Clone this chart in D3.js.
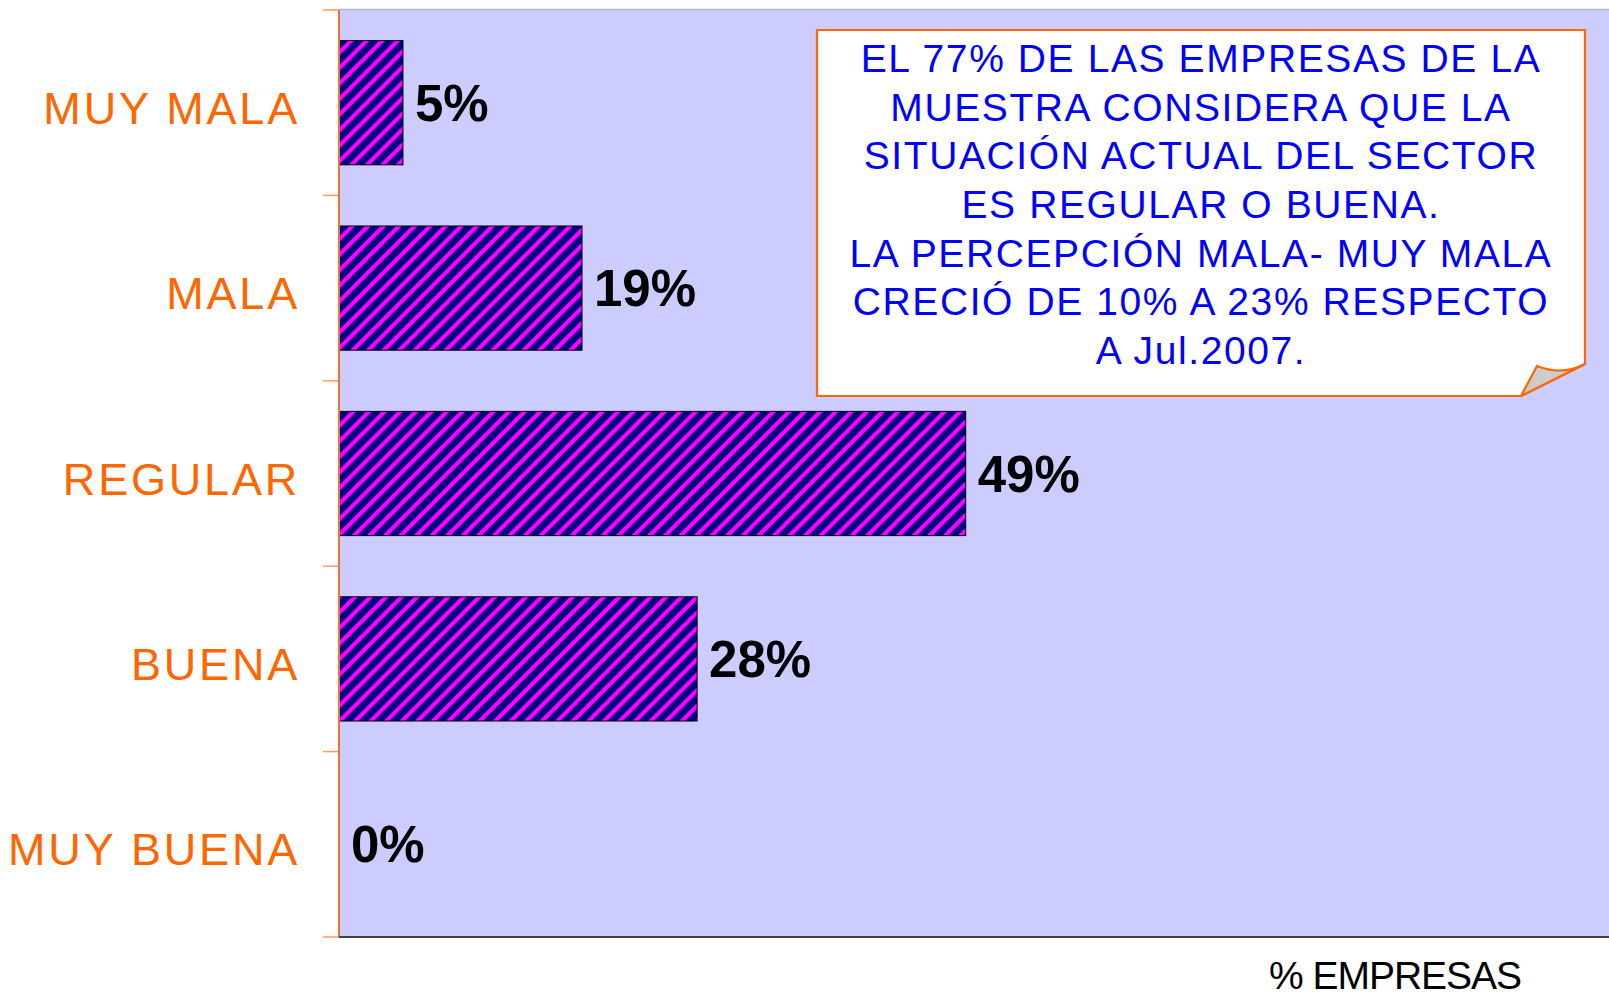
<!DOCTYPE html>
<html>
<head>
<meta charset="utf-8">
<script src="https://cdn.jsdelivr.net/npm/d3@7"></script>
<style>
  body { margin: 0; background: #fff; }
  svg { display: block; font-family: "Liberation Sans", Arial, sans-serif; }
</style>
</head>
<body>
<svg id="chart" width="1609" height="997"></svg>
<script>
// datos
let categorias = ["MUY MALA", "MALA", "REGULAR", "BUENA", "MUY BUENA"]
let porcentajes = [5, 19, 49, 28, 0]
let etiquetas = ["5%", "19%", "49%", "28%", "0%"]
let nota = [
  "EL 77% DE LAS EMPRESAS DE LA",
  "MUESTRA CONSIDERA QUE LA",
  "SITUACIÓN ACTUAL DEL SECTOR",
  "ES REGULAR O BUENA.",
  "LA PERCEPCIÓN MALA- MUY MALA",
  "CRECIÓ DE 10% A 23% RESPECTO",
  "A Jul.2007."
]
let tituloX = "% EMPRESAS"

let svg = d3.select("#chart")

let plotL = 339, plotT = 10, plotR = 1609, plotB = 937

let xScale = d3.scaleLinear().domain([0, 100]).range([plotL, 1618])
let yScale = d3.scaleBand().domain(categorias).range([plotT, plotB])
  .paddingInner(0.33).paddingOuter(0.165)

// patron rayado
let defs = svg.append("defs")
let pat = defs.append("pattern")
  .attr("id", "rayas")
  .attr("patternUnits", "userSpaceOnUse")
  .attr("width", 11)
  .attr("height", 11)
  .attr("patternTransform", "rotate(45)")
pat.append("rect").attr("width", 11).attr("height", 11).attr("fill", "#000080")
pat.append("rect").attr("width", 4.2).attr("height", 11).attr("fill", "#FF00FF")

// fondo del area de grafico
svg.append("rect")
  .attr("x", plotL).attr("y", plotT)
  .attr("width", plotR - plotL).attr("height", plotB - plotT)
  .attr("fill", "#CCCCFF")

svg.append("line")
  .attr("x1", plotL).attr("x2", plotR)
  .attr("y1", plotT - 0.5).attr("y2", plotT - 0.5)
  .attr("stroke", "#B4B4C8").attr("stroke-width", 1.5)

// barras
svg.selectAll("rect.barra")
  .data(porcentajes)
  .enter()
  .append("rect")
  .attr("class", "barra")
  .attr("x", xScale(0))
  .attr("y", (d, i) => yScale(categorias[i]))
  .attr("width", d => xScale(d) - xScale(0))
  .attr("height", yScale.bandwidth())
  .attr("fill", "url(#rayas)")
  .attr("stroke", d => d > 0 ? "#000" : "none")
  .attr("stroke-width", 1)

// etiquetas de valor
svg.selectAll("text.valor")
  .data(porcentajes)
  .enter()
  .append("text")
  .attr("class", "valor")
  .attr("x", d => xScale(d) + 12)
  .attr("y", (d, i) => yScale(categorias[i]) + yScale.bandwidth() / 2 + 18)
  .attr("font-size", 51)
  .attr("font-weight", "bold")
  .attr("fill", "#000")
  .text((d, i) => etiquetas[i])

// eje izquierdo
let step = yScale.step()
let marcas = d3.range(categorias.length + 1).map(i => plotT + i * step)
svg.selectAll("line.marca")
  .data(marcas)
  .enter()
  .append("line")
  .attr("class", "marca")
  .attr("x1", 323).attr("x2", plotL)
  .attr("y1", d => d).attr("y2", d => d)
  .attr("stroke", "#FF9A5C").attr("stroke-width", 1.5)

svg.append("line")
  .attr("x1", plotL).attr("x2", plotL)
  .attr("y1", plotT).attr("y2", plotB)
  .attr("stroke", "#F07030").attr("stroke-width", 2)

svg.append("line")
  .attr("x1", plotL).attr("x2", plotR)
  .attr("y1", plotB).attr("y2", plotB)
  .attr("stroke", "#404048").attr("stroke-width", 2)

// categorias
svg.selectAll("text.cat")
  .data(categorias)
  .enter()
  .append("text")
  .attr("class", "cat")
  .attr("x", 300)
  .attr("y", d => yScale(d) + yScale.bandwidth() / 2 + 21)
  .attr("text-anchor", "end")
  .attr("font-size", 45)
  .attr("letter-spacing", 2.8)
  .attr("fill", "#FF6600")
  .text(d => d)

// titulo eje x
svg.append("text")
  .attr("x", 1395).attr("y", 989)
  .attr("text-anchor", "middle")
  .attr("font-size", 39)
  .attr("letter-spacing", -1)
  .attr("fill", "#000")
  .text(tituloX)

// nota con esquina doblada
let bx0 = 817, by0 = 30, bx1 = 1585, by1 = 396
svg.append("path")
  .attr("d", `M${bx0},${by0} H${bx1} V364 L1521,${by1} H${bx0} Z`)
  .attr("fill", "#fff")
  .attr("stroke", "#FF6600").attr("stroke-width", 2.2)
svg.append("path")
  .attr("d", `M1521,${by1} L1537,366 Q1562,376 ${bx1},364 Z`)
  .attr("fill", "#CCCCCC")
  .attr("stroke", "#FF6600").attr("stroke-width", 2.2)
  .attr("stroke-linejoin", "round")

svg.selectAll("text.nota")
  .data(nota)
  .enter()
  .append("text")
  .attr("class", "nota")
  .attr("x", 1201)
  .attr("y", (d, i) => 72 + i * 48.67)
  .attr("text-anchor", "middle")
  .attr("font-size", 39)
  .attr("letter-spacing", 1.6)
  .attr("fill", "#0000FF")
  .text(d => d)
</script>
</body>
</html>
